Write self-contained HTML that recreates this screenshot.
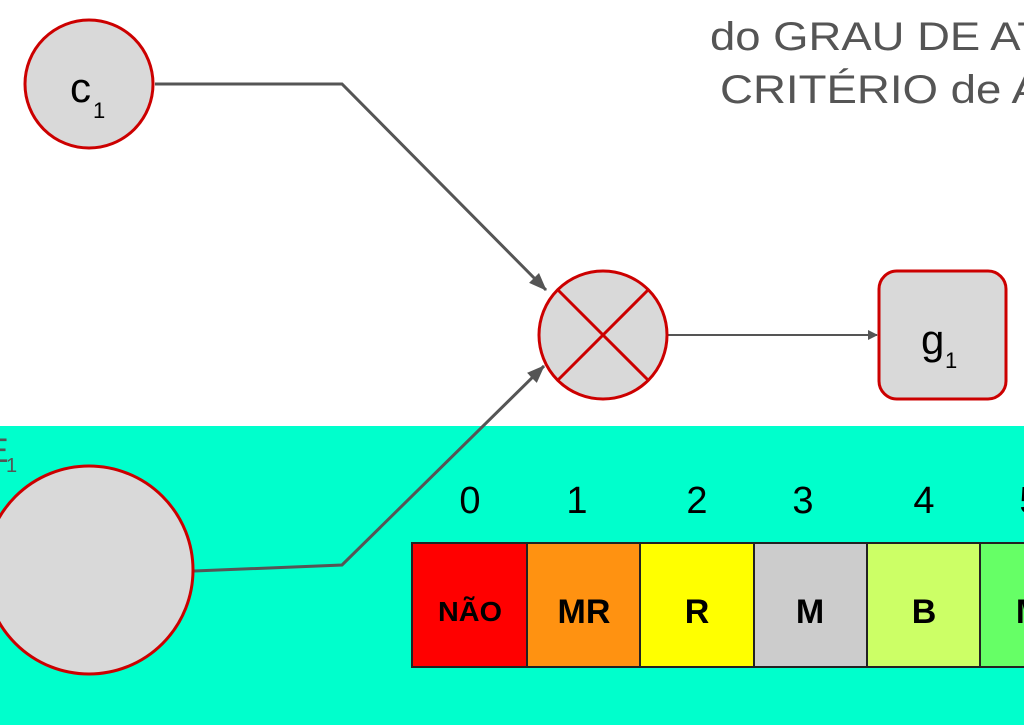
<!DOCTYPE html>
<html><head><meta charset="utf-8"><style>
html,body{margin:0;padding:0;width:1024px;height:725px;overflow:hidden;background:#fff}
svg{display:block}
text{font-family:"Liberation Sans",Arial,sans-serif}
</style></head><body>
<svg width="1024" height="725" viewBox="0 0 1024 725" xmlns="http://www.w3.org/2000/svg">
<defs>
<marker id="ar" markerWidth="10" markerHeight="10" refX="9" refY="5" orient="auto" markerUnits="userSpaceOnUse" viewBox="0 0 10 10">
<path d="M0,0 L10,5 L0,10 z" fill="#555"/></marker>
<marker id="ar2" markerWidth="18" markerHeight="14" refX="17" refY="7" orient="auto" markerUnits="userSpaceOnUse" viewBox="0 0 18 14">
<path d="M0,0 L18,7 L0,14 z" fill="#555"/></marker>
</defs>
<rect x="0" y="426" width="1024" height="299" fill="#00FFCC"/>
<text x="710" y="50" font-size="40" fill="#555" textLength="335" lengthAdjust="spacingAndGlyphs">do GRAU DE AT</text>
<text x="720" y="103" font-size="40" fill="#555" textLength="322" lengthAdjust="spacingAndGlyphs">CRITÉRIO de A</text>
<text x="-14" y="462" font-size="34" fill="#555">E</text>
<text x="6" y="472" font-size="20" fill="#555">1</text>
<polyline points="155,84 342,84 546,290" fill="none" stroke="#555" stroke-width="3" marker-end="url(#ar2)"/>
<polyline points="194,571 342,565 544,366" fill="none" stroke="#555" stroke-width="3" marker-end="url(#ar2)"/>
<line x1="668" y1="335" x2="877" y2="335" stroke="#555" stroke-width="2" marker-end="url(#ar)"/>
<circle cx="89" cy="84" r="64" fill="#d9d9d9" stroke="#cc0000" stroke-width="3"/>
<text x="70" y="102" font-size="42" fill="#000">c</text>
<text x="93" y="118" font-size="22" fill="#000">1</text>
<circle cx="89" cy="570" r="104" fill="#d9d9d9" stroke="#cc0000" stroke-width="3"/>
<circle cx="603" cy="335" r="64" fill="#d9d9d9" stroke="#cc0000" stroke-width="3"/>
<line x1="558" y1="290" x2="648" y2="380" stroke="#cc0000" stroke-width="3"/>
<line x1="648" y1="290" x2="558" y2="380" stroke="#cc0000" stroke-width="3"/>
<rect x="879" y="271" width="127" height="128" rx="18" fill="#d9d9d9" stroke="#cc0000" stroke-width="3"/>
<text x="921" y="354" font-size="42" fill="#000">g</text>
<text x="945" y="368" font-size="22" fill="#000">1</text>
<g font-size="38" fill="#000" text-anchor="middle">
<text x="470" y="513">0</text><text x="577" y="513">1</text><text x="697" y="513">2</text>
<text x="803" y="513">3</text><text x="924" y="513">4</text><text x="1030" y="513">5</text>
</g>
<g stroke="#222" stroke-width="2">
<rect x="412" y="543" width="115" height="124" fill="#ff0000"/>
<rect x="527" y="543" width="113" height="124" fill="#ff9211"/>
<rect x="640" y="543" width="114" height="124" fill="#ffff00"/>
<rect x="754" y="543" width="113" height="124" fill="#cccccc"/>
<rect x="867" y="543" width="113" height="124" fill="#ccff66"/>
<rect x="980" y="543" width="60" height="124" fill="#66ff66"/>
</g>
<g font-size="34" font-weight="bold" fill="#000" text-anchor="middle">
<text x="470" y="621" font-size="28" textLength="64" lengthAdjust="spacingAndGlyphs">NÃO</text>
<text x="584" y="623">MR</text>
<text x="697" y="623">R</text>
<text x="810" y="623">M</text>
<text x="924" y="623">B</text>
<text x="1030" y="623">M</text>
</g>
</svg>
</body></html>
